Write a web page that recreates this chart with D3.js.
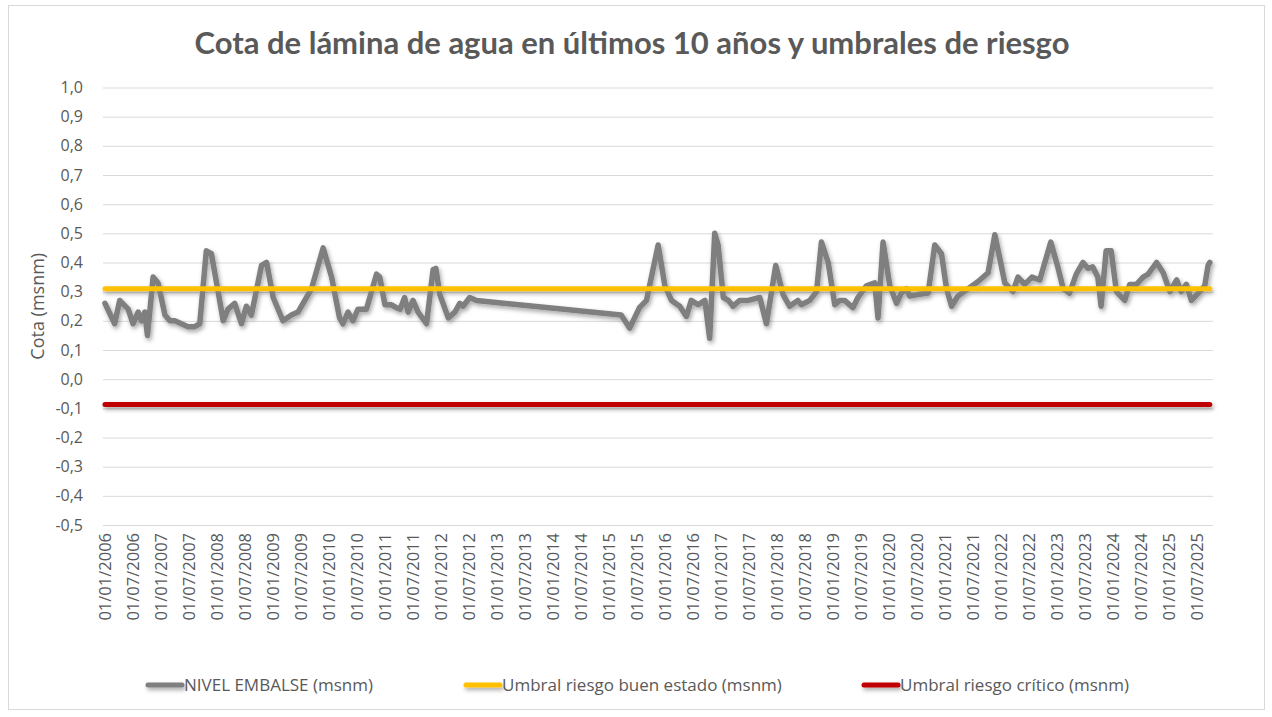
<!DOCTYPE html>
<html><head><meta charset="utf-8">
<script src="https://cdn.jsdelivr.net/npm/d3@7"></script>
<style>html,body{margin:0;padding:0;background:#fff;} svg{display:block;font-family:"Open Sans",sans-serif;}</style>
</head><body><svg id="c" width="1272" height="717"></svg>
<script>
const title = "Cota de lámina de agua en últimos 10 años y umbrales de riesgo";
const yAxisTitle = "Cota (msnm)";
const seriesNames = ["NIVEL EMBALSE (msnm)", "Umbral riesgo buen estado (msnm)", "Umbral riesgo crítico (msnm)"];
const seriesColors = ["#7f7f7f", "#ffc000", "#c00000"];
const dates = [
"2006-01-01","2006-03-05","2006-04-07","2006-06-01","2006-07-03","2006-08-05","2006-08-27","2006-09-18","2006-10-05","2006-11-11","2006-12-13",
"2007-01-27","2007-02-28","2007-04-01","2007-05-14","2007-06-26","2007-08-09","2007-09-11","2007-10-24","2007-11-26",
"2008-01-09","2008-02-11","2008-03-13","2008-04-26","2008-06-09","2008-07-11","2008-08-13","2008-10-18","2008-11-20",
"2009-01-02","2009-03-07","2009-05-01","2009-06-13","2009-09-09","2009-11-24",
"2010-01-18","2010-03-11","2010-04-02","2010-05-05","2010-06-06","2010-07-09","2010-09-02","2010-11-07","2010-11-28",
"2011-01-01","2011-02-13","2011-03-16","2011-04-10","2011-05-09","2011-06-01","2011-07-03","2011-08-05","2011-09-29","2011-11-11","2011-11-29","2011-12-25",
"2012-02-18","2012-04-01","2012-05-03","2012-05-24","2012-07-07","2012-08-20",
"2015-03-22","2015-05-16","2015-07-19","2015-09-03","2015-11-18",
"2016-01-01","2016-02-13","2016-04-07","2016-05-20","2016-06-21","2016-08-05","2016-09-18","2016-10-19","2016-11-21","2016-12-13",
"2017-01-16","2017-02-18","2017-03-20","2017-05-03","2017-06-26","2017-09-11","2017-10-24","2017-12-24",
"2018-02-10","2018-03-24","2018-05-17","2018-06-09","2018-08-03","2018-09-16","2018-10-18","2018-12-01",
"2019-01-13","2019-02-15","2019-03-18","2019-05-11","2019-06-13","2019-08-07","2019-10-01","2019-10-22","2019-11-24",
"2020-01-07","2020-02-20","2020-03-22","2020-04-24","2020-05-16","2020-07-07","2020-09-13","2020-10-26","2020-12-09",
"2021-01-11","2021-02-13","2021-03-26","2021-06-01","2021-08-05","2021-10-09","2021-11-22","2021-12-24",
"2022-01-26","2022-03-20","2022-04-22","2022-06-05","2022-07-22","2022-09-11","2022-11-22",
"2023-01-09","2023-02-11","2023-03-24","2023-05-07","2023-06-20","2023-07-22","2023-08-22","2023-09-25","2023-10-16","2023-11-18","2023-12-21",
"2024-01-24","2024-03-18","2024-04-20","2024-06-03","2024-07-16","2024-08-18","2024-10-12","2024-11-24",
"2025-01-07","2025-02-20","2025-03-22","2025-04-24","2025-05-27","2025-07-20","2025-08-22","2025-09-13","2025-09-24"
];
const nivel = [
0.26,0.19,0.27,0.24,0.19,0.23,0.20,0.23,0.15,0.35,0.33,
0.22,0.20,0.20,0.19,0.18,0.18,0.19,0.44,0.43,
0.30,0.20,0.24,0.26,0.19,0.25,0.22,0.39,0.40,
0.28,0.20,0.22,0.23,0.31,0.45,
0.35,0.21,0.19,0.23,0.20,0.24,0.24,0.36,0.35,
0.255,0.255,0.245,0.24,0.28,0.23,0.27,0.23,0.19,0.375,0.38,0.29,
0.21,0.23,0.26,0.25,0.28,0.27,
0.22,0.175,0.245,0.27,0.46,
0.32,0.27,0.25,0.215,0.27,0.255,0.27,0.14,0.50,0.46,
0.28,0.27,0.25,0.27,0.27,0.28,0.19,0.39,
0.29,0.25,0.27,0.255,0.27,0.30,0.47,0.40,
0.255,0.27,0.27,0.245,0.28,0.32,0.33,0.21,0.47,
0.32,0.26,0.295,0.31,0.285,0.29,0.295,0.46,0.43,
0.31,0.25,0.285,0.31,0.335,0.365,0.495,0.415,
0.33,0.30,0.35,0.325,0.35,0.34,0.47,
0.38,0.31,0.295,0.36,0.40,0.38,0.385,0.35,0.25,0.44,0.44,
0.30,0.27,0.325,0.325,0.35,0.36,0.40,0.365,
0.30,0.34,0.30,0.325,0.27,0.30,0.32,0.39,0.40
];
const umbralBuenEstado = 0.31;
const umbralCritico = -0.087;
const yTicks = [-0.5,-0.4,-0.3,-0.2,-0.1,0.0,0.1,0.2,0.3,0.4,0.5,0.6,0.7,0.8,0.9,1.0];
const xTickLabels = [
"01/01/2006","01/07/2006","01/01/2007","01/07/2007","01/01/2008","01/07/2008","01/01/2009","01/07/2009","01/01/2010","01/07/2010",
"01/01/2011","01/07/2011","01/01/2012","01/07/2012","01/01/2013","01/07/2013","01/01/2014","01/07/2014","01/01/2015","01/07/2015",
"01/01/2016","01/07/2016","01/01/2017","01/07/2017","01/01/2018","01/07/2018","01/01/2019","01/07/2019","01/01/2020","01/07/2020",
"01/01/2021","01/07/2021","01/01/2022","01/07/2022","01/01/2023","01/07/2023","01/01/2024","01/07/2024","01/01/2025","01/07/2025"
];

const parse = d3.utcParse("%Y-%m-%d");
const parseLbl = d3.utcParse("%d/%m/%Y");
const data = dates.map((d,i)=>({t:parse(d), v:nivel[i]}));
const svg = d3.select("#c");
const L = 103, R = 1213, T = 87.5, B = 525;

const x = d3.scaleUtc().domain([Date.UTC(2005,11,19), Date.UTC(2025,9,15)]).range([L, R]);
const y = d3.scaleLinear().domain([-0.5, 1.0]).range([B, T]);
const fmt = v => d3.format(".1f")(v).replace("−","-").replace(".", ",");

const defs = svg.append("defs");
const f = defs.append("filter").attr("id","sh").attr("filterUnits","userSpaceOnUse")
  .attr("x",0).attr("y",0).attr("width",1272).attr("height",717);
f.append("feDropShadow").attr("dx",1.5).attr("dy",2.5).attr("stdDeviation",2).attr("flood-color","#000").attr("flood-opacity",0.35);

svg.append("rect").attr("x",8.5).attr("y",5.5).attr("width",1256).attr("height",704).attr("fill","#fff").attr("stroke","#d9d9d9");

svg.append("text").attr("x",632).attr("y",54).attr("text-anchor","middle")
  .attr("font-size",31).attr("font-weight","bold").attr("fill","#595959")
  .attr("font-family","Lato, 'Open Sans', sans-serif").text(title);

// y axis with gridlines
const yAxis = d3.axisLeft(y).tickValues(yTicks).tickSize(-(R-L)).tickFormat(fmt);
const gy = svg.append("g").attr("transform",`translate(${L},0)`).call(yAxis);
gy.select(".domain").remove();
gy.selectAll(".tick line").attr("stroke","#d9d9d9").attr("stroke-width",1);
gy.selectAll(".tick text").attr("x",-20).attr("fill","#595959").attr("font-size",16).attr("font-family","'Open Sans',sans-serif");

svg.append("text").attr("transform",`translate(44,${(T+B)/2}) rotate(-90)`).attr("text-anchor","middle")
  .attr("font-size",18).attr("fill","#595959").text(yAxisTitle);

// x axis labels
const xTickDates = xTickLabels.map(parseLbl);
const xAxis = d3.axisBottom(x).tickValues(xTickDates).tickSize(0).tickFormat((d,i)=>xTickLabels[i]);
const gx = svg.append("g").attr("transform",`translate(0,${B})`).call(xAxis);
gx.select(".domain").remove();
gx.selectAll(".tick text").attr("transform","rotate(-90)").attr("text-anchor","end")
  .attr("x",-8).attr("y",0).attr("dy","0.35em").attr("fill","#595959").attr("font-size",16.5).attr("font-family","'Open Sans',sans-serif");

// lines
const line = d3.line().x(d=>x(d.t)).y(d=>y(d.v));
const t0 = data[0].t, t1 = data[data.length-1].t;
const g = svg.append("g").attr("filter","url(#sh)");
g.append("path").datum(data).attr("d",line).attr("fill","none").attr("stroke",seriesColors[0]).attr("stroke-width",5.5).attr("stroke-linejoin","round").attr("stroke-linecap","round");
g.append("path").datum([{t:t0,v:umbralBuenEstado},{t:t1,v:umbralBuenEstado}]).attr("d",line).attr("fill","none").attr("stroke",seriesColors[1]).attr("stroke-width",5).attr("stroke-linecap","round");
g.append("path").datum([{t:t0,v:umbralCritico},{t:t1,v:umbralCritico}]).attr("d",line).attr("fill","none").attr("stroke",seriesColors[2]).attr("stroke-width",5).attr("stroke-linecap","round");

// legend
const legX = [148, 466, 864];
const lg = svg.append("g");
seriesNames.forEach((n,i)=>{
  lg.append("line").attr("x1",legX[i]).attr("x2",legX[i]+34).attr("y1",685).attr("y2",685)
    .attr("stroke",seriesColors[i]).attr("stroke-width",5).attr("stroke-linecap","round").attr("filter","url(#sh)");
  lg.append("text").attr("x",legX[i]+36).attr("y",691).attr("font-size",17).attr("fill","#595959").text(n);
});
</script></body></html>
